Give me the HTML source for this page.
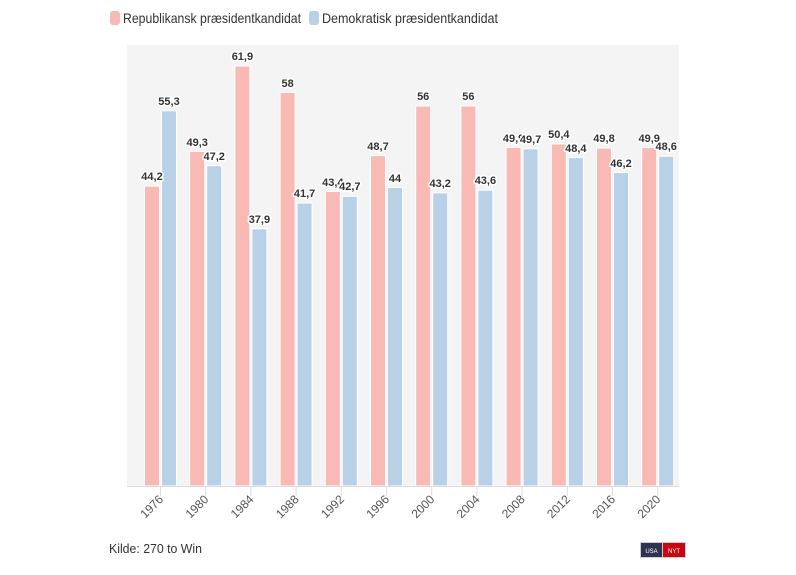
<!DOCTYPE html>
<html><head><meta charset="utf-8"><style>
body{margin:0;background:#fff;}
svg{display:block;font-family:"Liberation Sans",sans-serif;}
.l{font-size:11px;font-weight:bold;fill:#333;text-anchor:middle;stroke:#fff;stroke-width:3px;paint-order:stroke;stroke-linejoin:round}
.r{fill:#f9b9b5;stroke:#fff;stroke-width:1}
.b{fill:#b9d1e6;stroke:#fff;stroke-width:1}
.y{font-size:12px;fill:#555;text-anchor:end}
</style></head><body>
<svg width="796" height="575" viewBox="0 0 796 575">
<rect x="110" y="11" width="10" height="14" rx="3" fill="#f9b9b5"/>
<text x="123" y="23" font-size="14" fill="#333" textLength="178" lengthAdjust="spacingAndGlyphs">Republikansk præsidentkandidat</text>
<rect x="309" y="11" width="10" height="14" rx="3" fill="#b9d1e6"/>
<text x="322" y="23" font-size="14" fill="#333" textLength="176" lengthAdjust="spacingAndGlyphs">Demokratisk præsidentkandidat</text>
<rect x="127" y="45" width="552" height="441" fill="#f4f4f4"/>
<g>
<rect class="r" x="144.5" y="186.1" width="15" height="299.9"/><rect class="b" x="161.5" y="110.8" width="15" height="375.2"/>
<rect class="r" x="189.7" y="151.5" width="15" height="334.5"/><rect class="b" x="206.7" y="165.7" width="15" height="320.3"/>
<rect class="r" x="234.9" y="66" width="15" height="420"/><rect class="b" x="251.9" y="228.8" width="15" height="257.2"/>
<rect class="r" x="280.1" y="92.5" width="15" height="393.5"/><rect class="b" x="297.1" y="203.1" width="15" height="282.9"/>
<rect class="r" x="325.3" y="191.5" width="15" height="294.5"/><rect class="b" x="342.3" y="196.3" width="15" height="289.7"/>
<rect class="r" x="370.5" y="155.6" width="15" height="330.4"/><rect class="b" x="387.5" y="187.5" width="15" height="298.5"/>
<rect class="r" x="415.7" y="106" width="15" height="380"/><rect class="b" x="432.7" y="192.9" width="15" height="293.1"/>
<rect class="r" x="460.9" y="106" width="15" height="380"/><rect class="b" x="477.9" y="190.2" width="15" height="295.8"/>
<rect class="r" x="506.1" y="147.4" width="15" height="338.6"/><rect class="b" x="523.1" y="148.8" width="15" height="337.2"/>
<rect class="r" x="551.3" y="144" width="15" height="342"/><rect class="b" x="568.3" y="157.6" width="15" height="328.4"/>
<rect class="r" x="596.5" y="148.1" width="15" height="337.9"/><rect class="b" x="613.5" y="172.5" width="15" height="313.5"/>
<rect class="r" x="641.7" y="147.4" width="15" height="338.6"/><rect class="b" x="658.7" y="156.2" width="15" height="329.8"/>
</g>
<g class="l">
<text x="152" y="180">44,2</text><text x="197.2" y="146">49,3</text><text x="242.4" y="60">61,9</text><text x="287.6" y="87">58</text>
<text x="332.8" y="186">43,4</text><text x="378" y="150">48,7</text><text x="423.2" y="100">56</text><text x="468.4" y="100">56</text>
<text x="513.6" y="142">49,9</text><text x="558.8" y="138">50,4</text><text x="604" y="142">49,8</text><text x="649.2" y="142">49,9</text>
<text x="169" y="105">55,3</text><text x="214.2" y="160">47,2</text><text x="259.4" y="223">37,9</text><text x="304.6" y="197">41,7</text>
<text x="349.8" y="190">42,7</text><text x="395" y="182">44</text><text x="440.2" y="187">43,2</text><text x="485.4" y="184">43,6</text>
<text x="530.6" y="143">49,7</text><text x="575.8" y="152">48,4</text><text x="621" y="167">46,2</text><text x="666.2" y="150">48,6</text>
</g>
<line x1="127" y1="486.5" x2="679" y2="486.5" stroke="#ddd" stroke-width="1"/>
<g stroke="#ddd">
<line x1="160.5" y1="486" x2="160.5" y2="496"/><line x1="205.7" y1="486" x2="205.7" y2="496"/><line x1="250.9" y1="486" x2="250.9" y2="496"/><line x1="296.1" y1="486" x2="296.1" y2="496"/><line x1="341.3" y1="486" x2="341.3" y2="496"/><line x1="386.5" y1="486" x2="386.5" y2="496"/><line x1="431.7" y1="486" x2="431.7" y2="496"/><line x1="476.9" y1="486" x2="476.9" y2="496"/><line x1="522.1" y1="486" x2="522.1" y2="496"/><line x1="567.3" y1="486" x2="567.3" y2="496"/><line x1="612.5" y1="486" x2="612.5" y2="496"/><line x1="657.7" y1="486" x2="657.7" y2="496"/>
</g>
<g class="y">
<text transform="translate(164,500) rotate(-45)">1976</text><text transform="translate(209.2,500) rotate(-45)">1980</text><text transform="translate(254.4,500) rotate(-45)">1984</text><text transform="translate(299.6,500) rotate(-45)">1988</text><text transform="translate(344.8,500) rotate(-45)">1992</text><text transform="translate(390,500) rotate(-45)">1996</text><text transform="translate(435.2,500) rotate(-45)">2000</text><text transform="translate(480.4,500) rotate(-45)">2004</text><text transform="translate(525.6,500) rotate(-45)">2008</text><text transform="translate(570.8,500) rotate(-45)">2012</text><text transform="translate(616,500) rotate(-45)">2016</text><text transform="translate(661.2,500) rotate(-45)">2020</text>
</g>
<text x="109" y="553" font-size="13" fill="#333" textLength="93" lengthAdjust="spacingAndGlyphs">Kilde: 270 to Win</text>
<rect x="640" y="542" width="46" height="16" fill="#ccc"/>
<rect x="641" y="543" width="21" height="14" fill="#2e3350"/>
<rect x="663" y="543" width="22" height="14" fill="#c8080e"/>
<text x="651.5" y="553" font-size="6" fill="#fff" text-anchor="middle">USA</text>
<text x="674" y="553" font-size="6" fill="#fff" text-anchor="middle">NYT</text>
</svg>
</body></html>
